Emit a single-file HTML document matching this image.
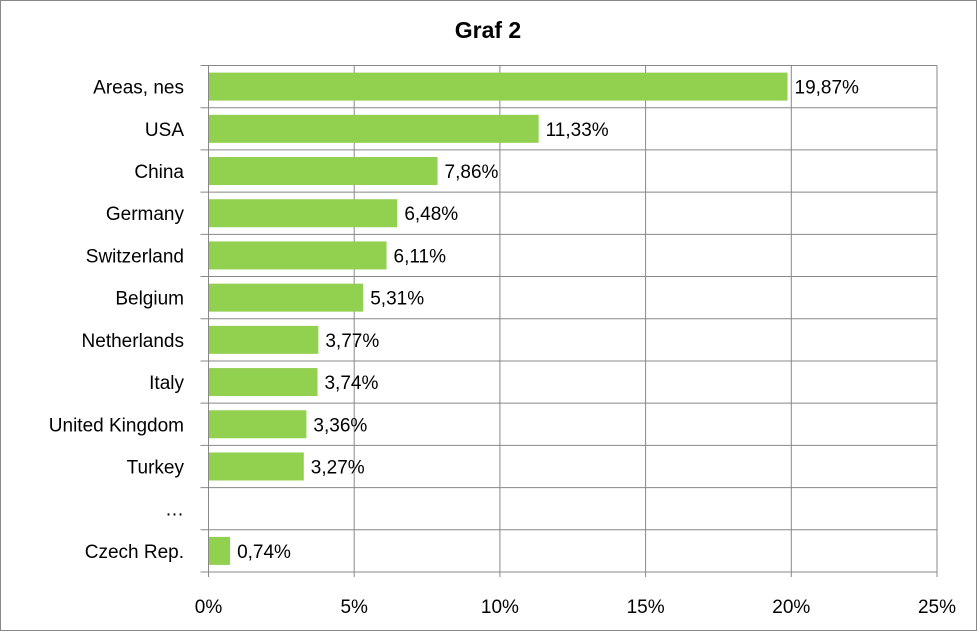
<!DOCTYPE html>
<html><head><meta charset="utf-8"><style>
html,body{margin:0;padding:0;background:#fff}
svg{display:block}
text{font-family:"Liberation Sans",sans-serif;fill:#000}
</style></head><body>
<svg width="977" height="631">
<rect x="0.5" y="0.5" width="976" height="630" fill="#fff" stroke="#888"/>
<text x="488" y="38" text-anchor="middle" font-size="23" font-weight="bold">Graf 2</text>
<g id="grid"></g><g id="bars"></g><g id="labels"></g>
</svg>
<script>
const categories=["Areas, nes","USA","China","Germany","Switzerland","Belgium","Netherlands","Italy","United Kingdom","Turkey","…","Czech Rep."];
const values=[19.87,11.33,7.86,6.48,6.11,5.31,3.77,3.74,3.36,3.27,null,0.74];
const xTicks=[0,5,10,15,20,25];
const NS="http://www.w3.org/2000/svg";
const x0=208.5,x1=937,yTop=65.5,yBot=572,xMax=25;
const xs=v=>x0+(x1-x0)*v/xMax;
const rowH=(yBot-yTop)/categories.length;
const ys=i=>yTop+rowH*i;
function mk(tag,attrs,parent){const e=document.createElementNS(NS,tag);for(const k in attrs)e.setAttribute(k,attrs[k]);parent.appendChild(e);return e;}
const grid=document.getElementById('grid'),bars=document.getElementById('bars'),labels=document.getElementById('labels');
xTicks.forEach(t=>{
  const l=mk('line',{x1:xs(t),x2:xs(t),y1:yTop,y2:yBot+5,stroke:'#888','stroke-width':1},grid);
  
  
  const tx=mk('text',{x:xs(t),y:yBot+41,'text-anchor':'middle','font-size':19},labels);
  tx.textContent=t+'%';
  
  
});
for(let i=0;i<=categories.length;i++){
  const l=mk('line',{x1:x0-8,x2:x1,y1:ys(i),y2:ys(i),stroke:'#888','stroke-width':1},grid);
  
  
}
categories.forEach((c,i)=>{
  const cy=ys(i)+rowH/2;
  const tx=mk('text',{x:184,y:cy+7,'text-anchor':'end','font-size':19},labels);
  tx.textContent=c;
  
  
  const v=values[i];
  if(v==null)return;
  const r=mk('rect',{x:x0+0.5,y:cy-14,width:xs(v)-x0-0.5,height:28,fill:'#92d050'},bars);
  
  
  const vl=mk('text',{x:xs(v)+7,y:cy+7,'font-size':19},labels);
  vl.textContent=v.toFixed(2).replace('.',',')+'%';
  
  
});
</script>
</body></html>
